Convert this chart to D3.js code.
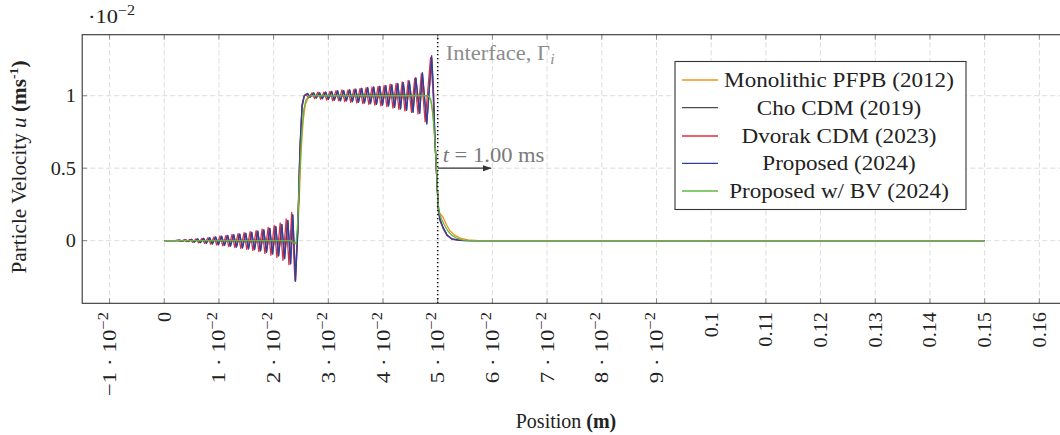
<!DOCTYPE html>
<html>
<head>
<meta charset="utf-8">
<script src="https://cdnjs.cloudflare.com/ajax/libs/d3/7.8.5/d3.min.js"></script>
<style>
  body { margin: 0; background: #fff; }
  svg { font-family: "Liberation Serif", "DejaVu Serif", serif; }
</style>
</head>
<body>
<div id="chart"></div>
<script>
// particle velocity, values in units of 1e-2 m/s, position in m
var seriesNames = ["Monolithic PFPB (2012)", "Cho CDM (2019)", "Dvorak CDM (2023)", "Proposed (2024)", "Proposed w/ BV (2024)"];
var seriesColors = ["#f7901e", "#4a4a4a", "#e0303c", "#2f40a0", "#5fb840"];

var monolithic = [[0,0],[0.0230,0],[0.0236,-0.01],[0.0241,-0.02],[0.0244,0.05],[0.0247,0.30],[0.0250,0.60],[0.0254,0.83],[0.0258,0.94],[0.0263,0.985],[0.0270,1.0],
  [0.0480,1.0],[0.0485,0.99],[0.0489,0.94],[0.0493,0.80],[0.0497,0.55],[0.0500,0.30],[0.0501,0.21],[0.0505,0.185],[0.0510,0.16],[0.0516,0.11],[0.0522,0.07],
  [0.0530,0.04],[0.0541,0.018],[0.0555,0.006],[0.0575,0],[0.15,0]];

var choCDM = [[0,0],[0.0020,0],[0.0028,0.004],[0.0033,-0.004],[0.0039,0.006],[0.0044,-0.006],[0.0050,0.009],[0.0055,-0.010],[0.0061,0.012],[0.0066,-0.013],
  [0.0072,0.015],[0.0077,-0.017],[0.0083,0.020],[0.0088,-0.022],[0.0094,0.025],[0.0099,-0.027],[0.0105,0.030],[0.0110,-0.032],[0.0116,0.035],[0.0121,-0.037],
  [0.0127,0.040],[0.0132,-0.043],[0.0138,0.045],[0.0143,-0.049],[0.0149,0.051],[0.0154,-0.055],[0.0160,0.057],[0.0165,-0.061],[0.0171,0.065],[0.0176,-0.069],
  [0.0182,0.074],[0.0187,-0.079],[0.0193,0.084],[0.0198,-0.090],[0.0204,0.096],[0.0209,-0.103],[0.0215,0.110],[0.0220,-0.122],[0.0226,0.138],[0.0231,-0.158],
  [0.0235,0.175],[0.0240,-0.27],[0.0244,0.05],[0.0248,0.60],[0.0252,0.92],[0.0256,1.0],
  [0.0262,1.015],[0.0267,0.99],[0.0273,1.02],[0.0278,0.985],[0.0284,1.02],[0.0289,0.98],[0.0295,1.025],[0.0300,0.975],[0.0306,1.03],[0.0311,0.97],
  [0.0317,1.03],[0.0322,0.965],[0.0328,1.035],[0.0333,0.965],[0.0339,1.04],[0.0344,0.96],[0.0350,1.045],[0.0355,0.955],[0.0361,1.05],[0.0366,0.95],
  [0.0372,1.055],[0.0377,0.945],[0.0383,1.06],[0.0388,0.94],[0.0394,1.065],[0.0399,0.935],[0.0405,1.07],[0.0410,0.93],[0.0416,1.075],[0.0421,0.92],
  [0.0427,1.08],[0.0432,0.91],[0.0437,1.09],[0.0443,0.90],[0.0448,1.10],[0.0455,0.89],[0.0460,1.12],[0.0467,0.88],[0.0472,1.155],[0.0480,0.81],
  [0.0489,1.26],[0.0492,1.05],[0.0495,0.68],[0.0498,0.45],[0.0501,0.22],[0.0504,0.14],[0.0510,0.085],[0.0517,0.038],[0.0526,0.011],[0.0541,0.002],[0.0560,0],[0.15,0]];

var dvorakCDM = [[0,0],[0.0022,0],[0.0030,-0.005],[0.0036,0.006],[0.0041,-0.007],[0.0047,0.009],[0.0052,-0.011],[0.0058,0.012],[0.0063,-0.015],[0.0069,0.016],
  [0.0074,-0.019],[0.0080,0.021],[0.0085,-0.024],[0.0091,0.026],[0.0096,-0.030],[0.0102,0.032],[0.0107,-0.035],[0.0113,0.037],[0.0118,-0.041],[0.0124,0.043],
  [0.0129,-0.047],[0.0135,0.049],[0.0140,-0.053],[0.0146,0.055],[0.0151,-0.060],[0.0157,0.062],[0.0162,-0.067],[0.0168,0.070],[0.0173,-0.076],[0.0179,0.080],
  [0.0184,-0.088],[0.0190,0.092],[0.0195,-0.100],[0.0201,0.105],[0.0206,-0.115],[0.0212,0.122],[0.0217,-0.135],[0.0223,0.150],[0.0228,-0.165],[0.0233,0.195],
  [0.0239,-0.276],[0.0244,0.08],[0.0248,0.64],[0.0252,0.94],[0.0256,1.0],
  [0.0259,1.01],[0.0264,0.985],[0.0270,1.02],[0.0275,0.98],[0.0281,1.025],[0.0286,0.975],[0.0292,1.025],[0.0297,0.97],[0.0303,1.03],[0.0308,0.965],
  [0.0314,1.035],[0.0319,0.965],[0.0325,1.04],[0.0330,0.96],[0.0336,1.04],[0.0341,0.955],[0.0347,1.045],[0.0352,0.95],[0.0358,1.05],[0.0363,0.945],
  [0.0369,1.055],[0.0374,0.94],[0.0380,1.06],[0.0385,0.935],[0.0391,1.065],[0.0396,0.93],[0.0402,1.07],[0.0407,0.925],[0.0413,1.08],[0.0418,0.915],
  [0.0424,1.085],[0.0429,0.905],[0.0435,1.095],[0.0440,0.895],[0.0446,1.105],[0.0452,0.885],[0.0458,1.12],[0.0464,0.875],[0.0470,1.15],[0.0477,0.82],
  [0.0487,1.265],[0.0491,1.05],[0.0495,0.70],[0.0498,0.45],[0.0501,0.24],[0.0504,0.15],[0.0510,0.085],[0.0517,0.038],[0.0526,0.011],[0.0541,0.002],[0.0560,0],[0.15,0]];

var proposed = [[0,0],[0.0020,0],[0.0028,0.004],[0.0033,-0.004],[0.0039,0.006],[0.0044,-0.006],[0.0050,0.009],[0.0055,-0.010],[0.0061,0.012],[0.0066,-0.013],
  [0.0072,0.016],[0.0077,-0.018],[0.0083,0.020],[0.0088,-0.022],[0.0094,0.026],[0.0099,-0.028],[0.0105,0.031],[0.0110,-0.033],[0.0116,0.036],[0.0121,-0.038],
  [0.0127,0.041],[0.0132,-0.044],[0.0138,0.046],[0.0143,-0.050],[0.0149,0.052],[0.0154,-0.056],[0.0160,0.058],[0.0165,-0.062],[0.0171,0.066],[0.0176,-0.070],
  [0.0182,0.075],[0.0187,-0.080],[0.0193,0.085],[0.0198,-0.092],[0.0204,0.098],[0.0209,-0.105],[0.0215,0.112],[0.0220,-0.125],[0.0226,0.140],[0.0231,-0.160],
  [0.0235,0.180],[0.0240,-0.280],[0.0244,0.05],[0.0248,0.62],[0.0252,0.93],[0.0256,1.0],
  [0.0262,1.015],[0.0267,0.99],[0.0273,1.02],[0.0278,0.985],[0.0284,1.02],[0.0289,0.98],[0.0295,1.025],[0.0300,0.975],[0.0306,1.03],[0.0311,0.97],
  [0.0317,1.035],[0.0322,0.965],[0.0328,1.035],[0.0333,0.965],[0.0339,1.04],[0.0344,0.96],[0.0350,1.045],[0.0355,0.955],[0.0361,1.05],[0.0366,0.95],
  [0.0372,1.055],[0.0377,0.945],[0.0383,1.06],[0.0388,0.94],[0.0394,1.065],[0.0399,0.935],[0.0405,1.07],[0.0410,0.93],[0.0416,1.075],[0.0421,0.92],
  [0.0427,1.085],[0.0432,0.91],[0.0437,1.09],[0.0443,0.90],[0.0448,1.10],[0.0455,0.885],[0.0460,1.125],[0.0467,0.88],[0.0472,1.16],[0.0480,0.805],
  [0.0489,1.276],[0.0492,1.05],[0.0495,0.69],[0.0498,0.46],[0.0501,0.23],[0.0504,0.15],[0.0510,0.09],[0.0517,0.04],[0.0526,0.012],[0.0541,0.002],[0.0560,0],[0.15,0]];

var proposedBV = [[0,0],[0.0232,0],[0.0237,-0.015],[0.0241,-0.02],[0.0244,0.12],[0.0247,0.40],[0.0251,0.72],[0.0255,0.90],[0.0259,0.97],[0.0264,0.995],[0.0270,1.0],
  [0.0482,1.0],[0.0487,0.98],[0.0491,0.88],[0.0495,0.68],[0.0498,0.47],[0.0501,0.25],[0.0503,0.19],[0.0507,0.15],[0.0512,0.11],[0.0518,0.07],[0.0525,0.04],
  [0.0533,0.02],[0.0545,0.006],[0.0560,0],[0.15,0]];

var allSeries = [monolithic, choCDM, dvorakCDM, proposed, proposedBV];

var xTicks = [-0.01,0,0.01,0.02,0.03,0.04,0.05,0.06,0.07,0.08,0.09,0.1,0.11,0.12,0.13,0.14,0.15,0.16];
var xTickLabels = [["\u22121 \u00b7 10","\u22122"],["0",""],["1 \u00b7 10","\u22122"],["2 \u00b7 10","\u22122"],["3 \u00b7 10","\u22122"],["4 \u00b7 10","\u22122"],
  ["5 \u00b7 10","\u22122"],["6 \u00b7 10","\u22122"],["7 \u00b7 10","\u22122"],["8 \u00b7 10","\u22122"],["9 \u00b7 10","\u22122"],["0.1",""],["0.11",""],
  ["0.12",""],["0.13",""],["0.14",""],["0.15",""],["0.16",""]];
var yTicks = [0, 0.5, 1];
var yTickLabels = ["0", "0.5", "1"];

var interfaceX = 0.05;

var W = 1060, H = 435;
var svg = d3.select("#chart").append("svg").attr("width", W).attr("height", H);

var x = d3.scaleLinear().domain([-0.015, 0.165]).range([82.2, 1066.7]);
var y = d3.scaleLinear().domain([-0.432, 1.421]).range([303.3, 34.7]);

// widen Times-like glyphs a bit towards Computer Modern proportions
function widen(sel, f) {
  sel.each(function () {
    var len = this.getComputedTextLength();
    d3.select(this).attr("textLength", len * f).attr("lengthAdjust", "spacingAndGlyphs");
  });
  return sel;
}

var defs = svg.append("defs");
defs.append("clipPath").attr("id", "clip").append("rect")
  .attr("x", x.range()[0]).attr("y", y.range()[1])
  .attr("width", x.range()[1] - x.range()[0]).attr("height", y.range()[0] - y.range()[1]);
defs.append("marker").attr("id", "arrow").attr("viewBox", "0 0 10 10")
  .attr("refX", 9).attr("refY", 5).attr("markerWidth", 9).attr("markerHeight", 9)
  .attr("markerUnits", "userSpaceOnUse").attr("orient", "auto")
  .append("path").attr("d", "M0,1.5 L10,5 L0,8.5 z").attr("fill", "#333");

// grid
var grid = svg.append("g");
grid.selectAll(".gx").data(xTicks).join("line")
  .attr("x1", (d) => x(d)).attr("x2", (d) => x(d))
  .attr("y1", y.range()[0]).attr("y2", y.range()[1])
  .attr("stroke", "#dcdcdc").attr("stroke-dasharray", "5,3");
grid.selectAll(".gy").data(yTicks).join("line")
  .attr("x1", x.range()[0]).attr("x2", x.range()[1])
  .attr("y1", (d) => y(d)).attr("y2", (d) => y(d))
  .attr("stroke", "#dcdcdc").attr("stroke-dasharray", "5,3");

// tick marks (inside, all four sides)
var tl = 5;
var ticks = svg.append("g").attr("stroke", "#8a8a8a");
xTicks.forEach(function (d) {
  ticks.append("line").attr("x1", x(d)).attr("x2", x(d)).attr("y1", y.range()[0]).attr("y2", y.range()[0] - tl);
  ticks.append("line").attr("x1", x(d)).attr("x2", x(d)).attr("y1", y.range()[1]).attr("y2", y.range()[1] + tl);
});
yTicks.forEach(function (d) {
  ticks.append("line").attr("x1", x.range()[0]).attr("x2", x.range()[0] + tl).attr("y1", y(d)).attr("y2", y(d));
});

// series
var line = d3.line().x((d) => x(d[0])).y((d) => y(d[1]));
var plot = svg.append("g").attr("clip-path", "url(#clip)");
allSeries.forEach(function (s, i) {
  plot.append("path").datum(s).attr("d", line)
    .attr("fill", "none").attr("stroke", seriesColors[i])
    .attr("stroke-width", 1.3).attr("stroke-linejoin", "round");
});

// interface
plot.append("line").attr("x1", x(interfaceX)).attr("x2", x(interfaceX))
  .attr("y1", y.range()[0]).attr("y2", y.range()[1])
  .attr("stroke", "#111").attr("stroke-width", 1.6).attr("stroke-dasharray", "1.3,2.7");

widen(svg.append("text").attr("x", x(interfaceX) + 8).attr("y", 60)
  .attr("font-size", 20.5).attr("fill", "#8c8c8c")
  .html('Interface, \u0393<tspan font-style="italic" font-size="14" dy="4">i</tspan>'), 1.1);

svg.append("line").attr("x1", x(interfaceX)).attr("x2", x(0.0597))
  .attr("y1", y(0.5)).attr("y2", y(0.5))
  .attr("stroke", "#333").attr("stroke-width", 1.3).attr("marker-end", "url(#arrow)");
widen(svg.append("text").attr("x", x(interfaceX) + 5).attr("y", 161.5)
  .attr("font-size", 20.5).attr("fill", "#7a7a7a")
  .html('<tspan font-style="italic">t</tspan> = 1.00 ms'), 1.1);

// frame
svg.append("rect").attr("x", x.range()[0]).attr("y", y.range()[1])
  .attr("width", x.range()[1] - x.range()[0]).attr("height", y.range()[0] - y.range()[1])
  .attr("fill", "none").attr("stroke", "#333").attr("stroke-width", 1.1);

// x tick labels, rotated
var xl = svg.append("g").attr("font-size", 19.5).attr("fill", "#222");
xTicks.forEach(function (d, i) {
  var t = xl.append("text")
    .attr("transform", "translate(" + (x(d) + 6.5) + ",312) rotate(-90)")
    .attr("text-anchor", "end");
  t.append("tspan").text(xTickLabels[i][0]);
  if (xTickLabels[i][1]) {
    t.append("tspan").attr("font-size", 14).attr("dy", -8).text(xTickLabels[i][1]);
    widen(t, 1.18);
  } else {
    widen(t, 1.04);
  }
});

// y tick labels
widen(svg.append("g").attr("font-size", 19.5).attr("fill", "#222")
  .selectAll("text").data(yTicks).join("text")
  .attr("x", 76).attr("y", (d) => y(d) + 6.5)
  .attr("text-anchor", "end").text((d, i) => yTickLabels[i]), 1.04);

widen(svg.append("text").attr("x", 88).attr("y", 23).attr("font-size", 19.5).attr("fill", "#222")
  .html('\u00b710<tspan font-size="14" dy="-8">\u22122</tspan>'), 1.15);

// axis labels
widen(svg.append("text").attr("transform", "translate(26,167) rotate(-90)")
  .attr("text-anchor", "middle").attr("font-size", 20).attr("fill", "#222")
  .html('Particle Velocity <tspan font-style="italic">u</tspan> <tspan font-weight="bold">(ms<tspan font-size="13" dy="-8">-1</tspan><tspan dy="8">)</tspan></tspan>'), 1.06);
svg.append("text").attr("x", 566).attr("y", 428)
  .attr("text-anchor", "middle").attr("font-size", 20).attr("fill", "#222")
  .html('Position <tspan font-weight="bold">(m)</tspan>');

// legend
var lg = svg.append("g");
lg.append("rect").attr("x", 675).attr("y", 61.5).attr("width", 291).attr("height", 148)
  .attr("fill", "#fff").attr("stroke", "#333").attr("stroke-width", 1.1);
var rowY = [80, 107.7, 136, 163.3, 191];
seriesNames.forEach(function (name, i) {
  lg.append("line").attr("x1", 682).attr("x2", 718).attr("y1", rowY[i]).attr("y2", rowY[i])
    .attr("stroke", seriesColors[i]).attr("stroke-width", 1.3);
  widen(lg.append("text").attr("x", 839).attr("y", rowY[i] + 7).attr("text-anchor", "middle")
    .attr("font-size", 21).attr("fill", "#222").text(name), 1.1);
});
</script>
</body>
</html>
